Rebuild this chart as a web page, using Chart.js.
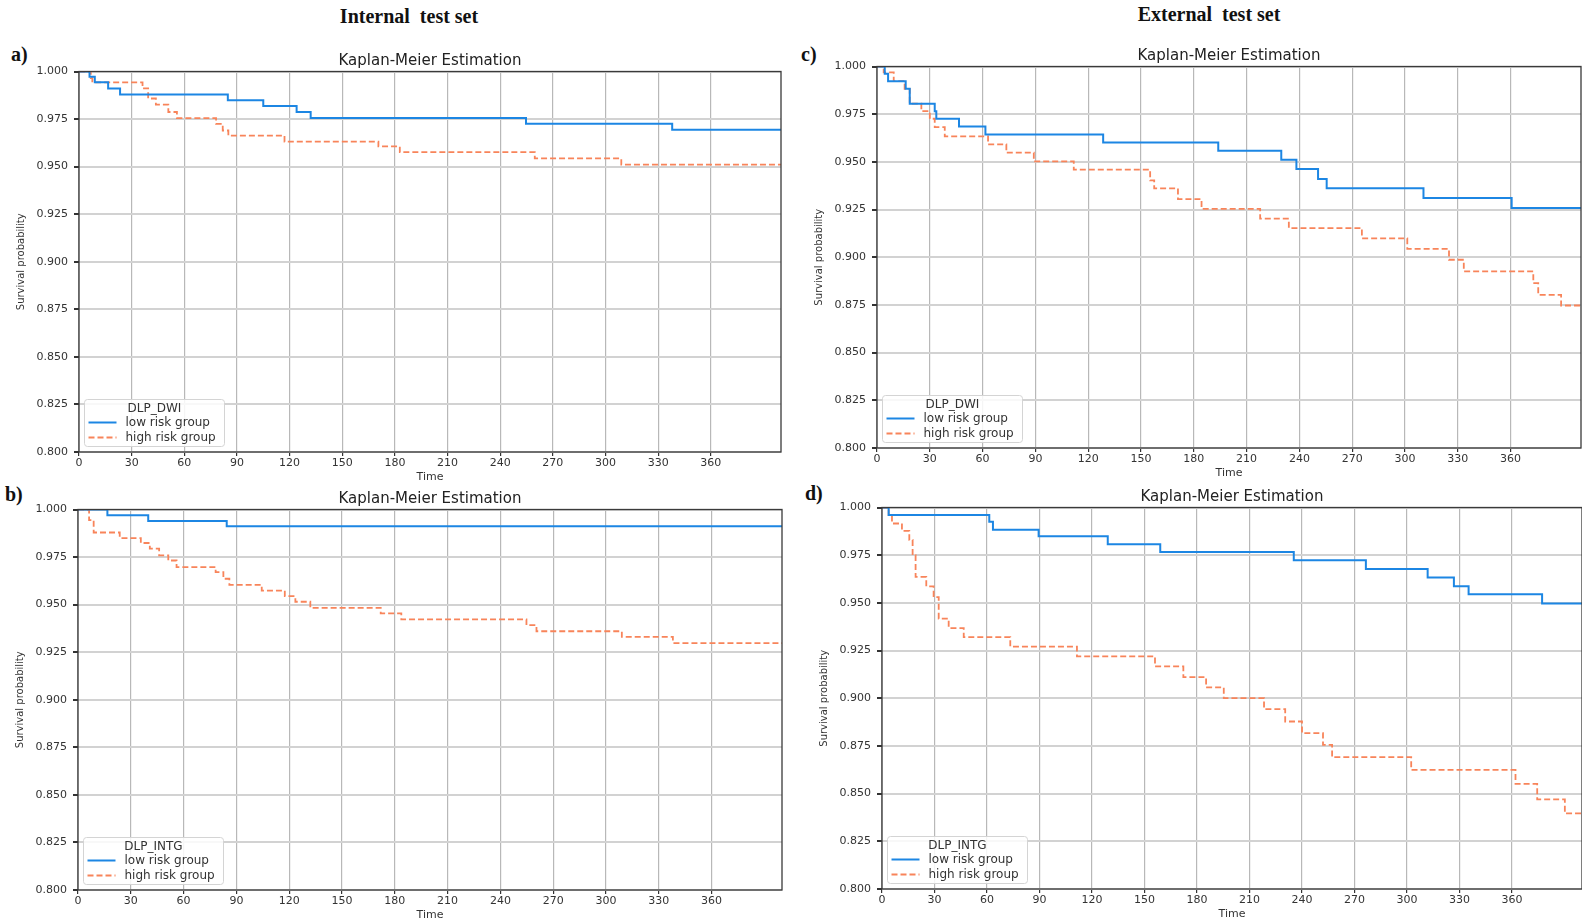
<!DOCTYPE html>
<html>
<head>
<meta charset="utf-8">
<script src="https://cdn.jsdelivr.net/npm/chart.js@4.4.1/dist/chart.umd.min.js"></script>
<style>
  html, body { margin: 0; padding: 0; background: #fff; }
  body { width: 1582px; height: 923px; position: relative; overflow: hidden; }
  canvas { position: absolute; }
  .head { position: absolute; font-family: "Liberation Serif", serif; font-weight: bold; font-size: 20px; line-height: 20px; color: #111; white-space: pre; transform: translateX(-50%); }
  .tag { position: absolute; font-family: "Liberation Serif", serif; font-weight: bold; font-size: 20px; line-height: 20px; color: #111; }
</style>
</head>
<body>
<div class="head" style="left:409px; top:6px;">Internal  test set</div>
<div class="head" style="left:1209px; top:4px;">External  test set</div>
<div class="tag" style="left:11px; top:44px;">a)</div>
<div class="tag" style="left:801px; top:44px;">c)</div>
<div class="tag" style="left:5px; top:484px;">b)</div>
<div class="tag" style="left:805px; top:483px;">d)</div>

<script>
// Axis ticks
const xTicks = [0, 30, 60, 90, 120, 150, 180, 210, 240, 270, 300, 330, 360];
const yTicks = [0.800, 0.825, 0.850, 0.875, 0.900, 0.925, 0.950, 0.975, 1.000];
const groupLabels = ['low risk group', 'high risk group'];

// a) internal test set, DLP_DWI (time in days, survival after each event)
const aLowT = [0, 6, 9, 16.6, 23.4, 84.8, 105, 124, 132, 254.7, 338, 400];
const aLowS = [1, 0.9973, 0.9943, 0.9911, 0.9879, 0.9849, 0.9819, 0.9787, 0.9755, 0.9725, 0.9694, 0.9694];
const aHighT = [0, 6.7, 7.6, 36.2, 39.4, 43.8, 50.9, 55.8, 78.1, 81.9, 85.1, 117.1, 170.6, 182.8, 259.7, 309, 400];
const aHighS = [1, 0.9965, 0.9943, 0.9911, 0.9858, 0.9826, 0.9787, 0.9755, 0.9725, 0.969, 0.9663, 0.9631, 0.9606, 0.9576, 0.9543, 0.9511, 0.9511];

// b) internal test set, DLP_INTG
const bLowT = [0, 16.7, 39.9, 84.5, 400];
const bLowS = [1, 0.997, 0.994, 0.9912, 0.9912];
const bHighT = [0, 6.3, 8.9, 23.7, 35.7, 40.8, 46.1, 51.3, 56, 78.2, 82.6, 86, 104.4, 117.5, 123.5, 132, 172, 183.7, 254.8, 260.5, 309, 338, 400];
const bHighS = [1, 0.9944, 0.9879, 0.985, 0.9824, 0.9794, 0.9759, 0.9732, 0.9697, 0.9671, 0.9636, 0.9604, 0.9574, 0.9545, 0.9515, 0.9483, 0.9454, 0.9422, 0.9392, 0.936, 0.9331, 0.9298, 0.9298];

// c) external test set, DLP_DWI
const cLowT = [0, 4.4, 6.3, 16.3, 18.6, 32.8, 33.7, 46.6, 61.6, 128.5, 193.9, 229.7, 238.3, 250.6, 255.5, 310.5, 360.6, 400];
const cLowS = [1, 0.9962, 0.9923, 0.9883, 0.9805, 0.9766, 0.9726, 0.9686, 0.9644, 0.9602, 0.9558, 0.9511, 0.9462, 0.941, 0.9362, 0.931, 0.9258, 0.9258];
const cHighT = [0, 3.8, 9.5, 15.7, 18.6, 25.2, 30, 32.8, 38.5, 63.1, 73.5, 89.1, 111.8, 155.2, 157.5, 171, 184.4, 217.7, 234, 275.5, 301.3, 325, 333.4, 372.9, 375.7, 388.7, 400];
const cHighS = [1, 0.9969, 0.9923, 0.9883, 0.9805, 0.9766, 0.9726, 0.9682, 0.9634, 0.9592, 0.9548, 0.9503, 0.9459, 0.9403, 0.9361, 0.9305, 0.9254, 0.9202, 0.9153, 0.9099, 0.9044, 0.8987, 0.8926, 0.8864, 0.8803, 0.8747, 0.8747];

// d) external test set, DLP_INTG
const dLowT = [0, 3.8, 61.3, 63.4, 89.5, 129, 159, 235.3, 276.5, 311.8, 326.8, 335.2, 377.2, 400];
const dLowS = [1, 0.9961, 0.9925, 0.9884, 0.9849, 0.9807, 0.9767, 0.9724, 0.9677, 0.9633, 0.9587, 0.9545, 0.9497, 0.9497];
const dHighT = [0, 3.8, 5.7, 11.4, 15.6, 17.5, 19.2, 25.3, 29.5, 32.4, 38.1, 46.7, 73.3, 111.4, 156, 172.2, 185.2, 195.3, 218.3, 230.4, 240, 252, 257.2, 302.4, 362, 374.4, 390.2, 400];
const dHighS = [1, 0.996, 0.9916, 0.9877, 0.983, 0.975, 0.9636, 0.9587, 0.953, 0.9417, 0.9368, 0.932, 0.9271, 0.922, 0.9167, 0.9111, 0.9057, 0.9001, 0.8943, 0.8878, 0.8817, 0.8756, 0.8691, 0.8624, 0.8551, 0.847, 0.8396, 0.8396];

const FONT = '"DejaVu Sans", sans-serif';
const BLUE = '#1c86e3';
const ORANGE = '#f8845a';

// Plot-area placement (page pixels) for each panel
const panels = [
  { L: 78.5, T: 71.7, R: 780, B: 452.3, legend: 'DLP_DWI', low: [aLowT, aLowS], high: [aHighT, aHighS] },
  { L: 78, T: 509.3, R: 782, B: 890, legend: 'DLP_INTG', low: [bLowT, bLowS], high: [bHighT, bHighS] },
  { L: 877.3, T: 66.5, R: 1581, B: 448.3, legend: 'DLP_DWI', low: [cLowT, cLowS], high: [cHighT, cHighS] },
  { L: 881.7, T: 507.3, R: 1582, B: 888.7, legend: 'DLP_INTG', low: [dLowT, dLowS], high: [dHighT, dHighS] }
];

const Y_W = 68, TOP_H = 23.5, X_H = 32, PAD_R = 2;

function toPoints(t, s) {
  return t.map((v, i) => ({ x: v, y: s[i] }));
}

// Axes frame drawn on top of the lines
const framePlugin = {
  id: 'frame',
  afterDatasetsDraw(chart) {
    const { ctx, chartArea: a } = chart;
    ctx.save();
    ctx.strokeStyle = '#3a3a3a';
    ctx.lineWidth = 1.3;
    ctx.strokeRect(a.left, a.top, a.right - a.left, a.bottom - a.top);
    ctx.restore();
  }
};

// Legend in the lower-left corner, matplotlib style
const boxLegend = {
  id: 'boxLegend',
  afterDraw(chart, args, opts) {
    const { ctx, chartArea: a } = chart;
    const w = 140, h = 47;
    const x = a.left + 5.5, y = a.bottom - 5.5 - h;
    ctx.save();
    ctx.beginPath();
    ctx.roundRect(x, y, w, h, 3);
    ctx.fillStyle = 'rgba(255,255,255,0.85)';
    ctx.fill();
    ctx.strokeStyle = '#d4d4d4';
    ctx.lineWidth = 1;
    ctx.stroke();
    ctx.font = '12px ' + FONT;
    ctx.fillStyle = '#333';
    ctx.textBaseline = 'middle';
    ctx.textAlign = 'center';
    ctx.fillText(opts.title, x + 70, y + 9);
    ctx.textAlign = 'left';
    chart.data.datasets.forEach((ds, i) => {
      const ly = y + 23 + i * 15;
      ctx.beginPath();
      ctx.setLineDash(ds.borderDash || []);
      ctx.strokeStyle = ds.borderColor;
      ctx.lineWidth = ds.borderWidth;
      ctx.moveTo(x + 4, ly);
      ctx.lineTo(x + 32, ly);
      ctx.stroke();
      ctx.setLineDash([]);
      ctx.fillStyle = '#333';
      ctx.fillText(ds.label, x + 41, ly);
    });
    ctx.restore();
  }
};

function makePanel(p) {
  const canvas = document.createElement('canvas');
  const left = Math.round(p.L - Y_W);
  const top = Math.round(p.T - TOP_H);
  const w = Math.round(Y_W + (p.R - p.L) + PAD_R);
  const h = Math.round(TOP_H + (p.B - p.T) + X_H);
  canvas.width = w;
  canvas.height = h;
  canvas.style.left = left + 'px';
  canvas.style.top = top + 'px';
  canvas.style.width = w + 'px';
  canvas.style.height = h + 'px';
  document.body.appendChild(canvas);

  return new Chart(canvas.getContext('2d'), {
    type: 'line',
    data: {
      datasets: [
        { label: groupLabels[0], data: toPoints(p.low[0], p.low[1]), borderColor: BLUE, borderWidth: 2, stepped: 'before', pointRadius: 0, fill: false },
        { label: groupLabels[1], data: toPoints(p.high[0], p.high[1]), borderColor: ORANGE, borderWidth: 1.8, borderDash: [6, 3], stepped: 'before', pointRadius: 0, fill: false }
      ]
    },
    options: {
      responsive: false,
      animation: false,
      events: [],
      layout: { padding: { left: 0, right: PAD_R, top: 0, bottom: 0 } },
      scales: {
        x: {
          type: 'linear', min: 0, max: 400,
          afterBuildTicks: s => { s.ticks = xTicks.map(v => ({ value: v })); },
          afterFit: s => { s.height = X_H; },
          ticks: { font: { family: FONT, size: 11 }, color: '#333', padding: 1, maxRotation: 0, autoSkip: false },
          grid: { color: '#b8b8b8', lineWidth: 1.2, tickColor: '#333', tickLength: 4 },
          border: { display: false },
          title: { display: true, text: 'Time', font: { family: FONT, size: 11 }, color: '#333', padding: { top: 0, bottom: 0 } }
        },
        y: {
          min: 0.8, max: 1.0,
          afterBuildTicks: s => { s.ticks = yTicks.map(v => ({ value: v })); },
          afterFit: s => { s.width = Y_W; },
          ticks: { font: { family: FONT, size: 11 }, color: '#333', padding: 6, callback: v => v.toFixed(3) },
          grid: { color: '#d2d2d2', lineWidth: 2, tickColor: '#333', tickLength: 5 },
          border: { display: false },
          title: { display: true, text: 'Survival probability', font: { family: FONT, size: 10 }, color: '#333', padding: { top: 4, bottom: 0 } }
        }
      },
      plugins: {
        legend: { display: false },
        tooltip: { enabled: false },
        title: {
          display: true, text: 'Kaplan-Meier Estimation', fullSize: false,
          font: { family: FONT, size: 15, weight: 'normal' }, color: '#222',
          padding: { top: 4, bottom: 1.5 }
        },
        boxLegend: { title: p.legend }
      }
    },
    plugins: [framePlugin, boxLegend]
  });
}

panels.forEach(makePanel);
</script>
</body>
</html>
